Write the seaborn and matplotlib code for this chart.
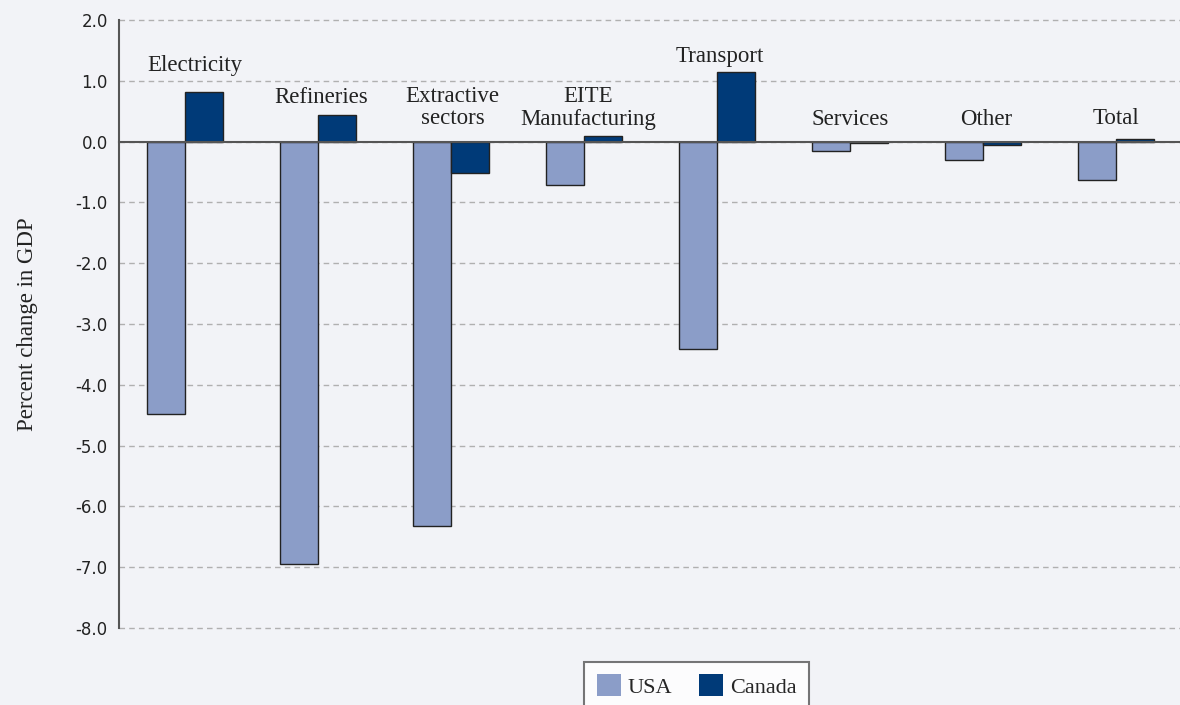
import matplotlib
matplotlib.use("Agg")
import matplotlib.pyplot as plt
import pandas as pd
import seaborn as sns

sectors = ["Electricity", "Refineries", "Extractive\nsectors", "EITE\nManufacturing",
           "Transport", "Services", "Other", "Total"]
usa = [-4.48, -6.95, -6.32, -0.72, -3.41, -0.16, -0.31, -0.63]
canada = [0.82, 0.43, -0.51, 0.10, 1.15, -0.02, -0.06, 0.05]
# where each sector name sits (offset from category centre, height in data units)
label_dx = [0.07, 0.02, 0.01, 0.03, 0.02, 0.0, 0.02, 0.0]
label_y = [1.08, 0.55, 0.20, 0.19, 1.22, 0.19, 0.19, 0.20]

df = pd.DataFrame({
    "sector": sectors * 2,
    "value": usa + canada,
    "country": ["USA"] * len(sectors) + ["Canada"] * len(sectors),
})

bg = "#f2f3f7"
sns.set_style("white")
plt.rcParams["font.family"] = ["DejaVu Sans"]

fig = plt.figure(figsize=(11.8, 7.05), dpi=100, facecolor=bg)
ax = fig.add_axes([0.1008, 0.1092, 0.9017, 0.8624])
ax.set_facecolor(bg)

sns.barplot(data=df, x="sector", y="value", hue="country", ax=ax,
            palette={"USA": "#8b9dc8", "Canada": "#003a78"},
            width=0.572, gap=0, edgecolor="#222222", linewidth=1.0,
            saturation=1, errorbar=None)

ax.set_ylim(-8, 2)
ax.set_xlim(-0.5, len(sectors) - 0.5)
ax.set_yticks(range(-8, 3))
ax.set_yticklabels([f"{v:.1f}" for v in range(-8, 3)], fontsize=12, color="#222222")
ax.yaxis.grid(True, linestyle=(0, (4, 3)), color="#b0b0b0", linewidth=1)
for line in ax.get_ygridlines():
    line.set_clip_on(False)
ax.set_axisbelow(True)

# zero line doubles as the x axis, ticks between categories
ax.spines["bottom"].set_position(("data", 0))
ax.spines["bottom"].set_color("#555555")
ax.spines["bottom"].set_linewidth(1.5)
ax.spines["left"].set_color("#555555")
ax.spines["left"].set_linewidth(1.5)
ax.spines["top"].set_visible(False)
ax.spines["right"].set_visible(False)
ax.set_xticks([i - 0.5 for i in range(len(sectors) + 1)])
ax.set_xticklabels([])
ax.tick_params(axis="x", direction="out", length=6, width=1.2, color="#555555")
ax.tick_params(axis="y", direction="out", length=6, width=1.2, color="#555555", pad=2)
ax.set_xlabel("")
ax.set_ylabel("Percent change in GDP", family="Liberation Serif", fontsize=16.5,
              color="#222222", labelpad=27)

for i, (name, dx, y) in enumerate(zip(sectors, label_dx, label_y)):
    ax.text(i + dx, y, name, ha="center", va="bottom", family="Liberation Serif",
            fontsize=16.5, color="#222222", linespacing=1.1)

sns.move_legend(ax, "upper center", bbox_to_anchor=(0.543, -0.056), ncol=2,
                title=None, frameon=True, fancybox=False,
                prop={"family": "Liberation Serif", "size": 16},
                handlelength=1.1, handleheight=1.1, handletextpad=0.3,
                columnspacing=1.2, borderpad=0.55, borderaxespad=0)
leg = ax.get_legend()
leg.get_frame().set_edgecolor("#555555")
leg.get_frame().set_linewidth(1.5)
leg.get_frame().set_facecolor("white")
for h in leg.legend_handles:
    h.set_edgecolor("none")

fig.savefig("out.png", dpi=100, facecolor=bg)
